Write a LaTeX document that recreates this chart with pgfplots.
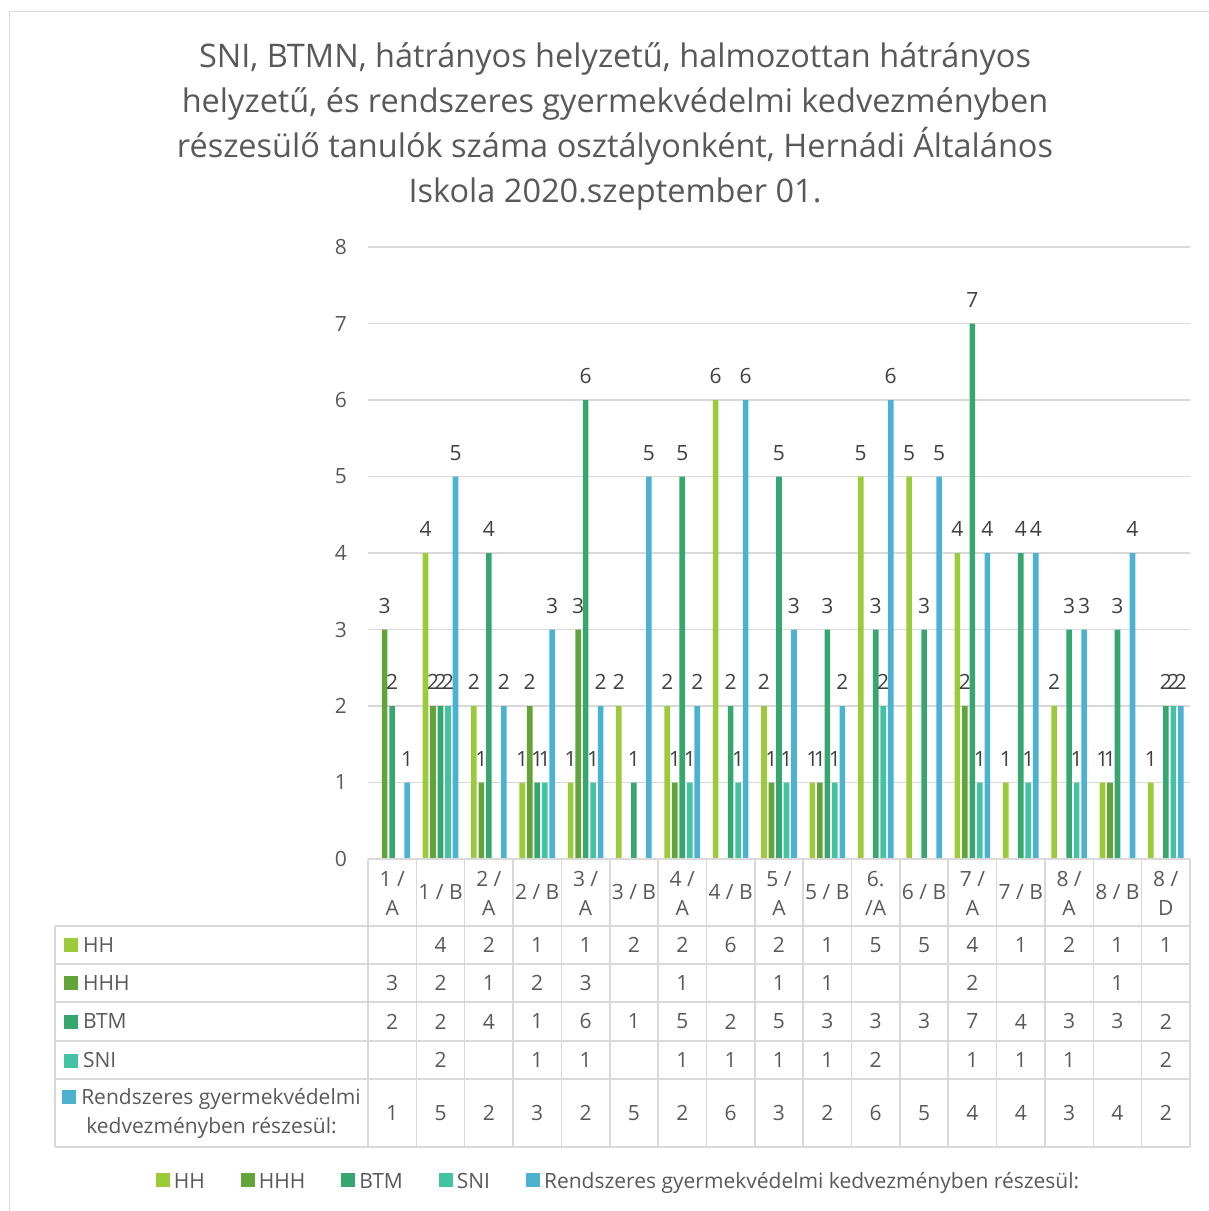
\documentclass[border=0pt]{standalone}
\usepackage{fontspec}
\setmainfont{Open Sans}
\usepackage{pgfplots}
\usepackage{pgfplotstable}
\pgfplotsset{compat=1.18}
\definecolor{cHH}{HTML}{9BCB3B}
\definecolor{cHHH}{HTML}{62A33A}
\definecolor{cBTM}{HTML}{36A76E}
\definecolor{cSNI}{HTML}{44C3A4}
\definecolor{cREND}{HTML}{4BB2CF}
\definecolor{txtgray}{HTML}{595959}
\definecolor{lblgray}{HTML}{404040}
\definecolor{linegray}{HTML}{D9D9D9}

\pgfplotsset{sqleg/.style={legend image code/.code={\fill[##1] (0pt,-2.5pt) rectangle (7pt,4.5pt);}}}

% osztalyok: 0=1/A ... 16=8/D, nan = ures cella
\pgfplotstableread{
x  HH  HHH BTM SNI REND
0  nan 3   2   nan 1
1  4   2   2   2   5
2  2   1   4   nan 2
3  1   2   1   1   3
4  1   3   6   1   2
5  2   nan 1   nan 5
6  2   1   5   1   2
7  6   nan 2   1   6
8  2   1   5   1   3
9  1   1   3   1   2
10 5   nan 3   2   6
11 5   nan 3   nan 5
12 4   2   7   1   4
13 1   nan 4   1   4
14 2   nan 3   1   3
15 1   1   3   nan 4
16 1   nan 2   2   2
}\data

\newcommand{\tf}{\fontsize{10.5}{14.5}\selectfont}

\begin{document}
\begin{tikzpicture}
\useasboundingbox (0,0) rectangle (604.5pt,605.5pt);
\draw[linegray, line width=0.6pt] (4.8pt,-2pt) |- (608pt,599.6pt);

\node[align=center, text=txtgray, font=\fontsize{16.25}{22.5}\selectfont] at (307.5pt,542.25pt)
  {SNI, BTMN, hátrányos helyzetű, halmozottan hátrányos\\
   helyzetű, és rendszeres gyermekvédelmi kedvezményben\\
   részesülő tanulók száma osztályonként, Hernádi Általános\\
   Iskola 2020.szeptember 01.};

\begin{axis}[
  at={(184pt,176pt)}, anchor=south west,
  width=411pt, height=306pt, scale only axis,
  xmin=-0.5, xmax=16.5, ymin=0, ymax=8,
  ybar=0.95pt, bar width=2.8pt,
  xtick=\empty, ytick={0,...,8},
  ymajorgrids, grid style={linegray, line width=0.75pt},
  axis line style={draw=none},
  major tick length=0pt,
  yticklabel style={font=\tf, text=txtgray, xshift=-7pt},
  /pgf/number format/assume math mode=true,
  nodes near coords,
  every node near coord/.append style={font=\tf, text=lblgray, yshift=4.5pt},
  clip=false,
  legend columns=5,
  legend style={draw=none, at={(0.306,-0.528)}, anchor=center, font=\tf, text=txtgray,
    /tikz/every even column/.append style={column sep=16pt}},
]
\addplot[fill=cHH, draw=none, sqleg] table[x=x, y=HH] {\data};
\addplot[fill=cHHH, draw=none, sqleg] table[x=x, y=HHH] {\data};
\addplot[fill=cBTM, draw=none, sqleg] table[x=x, y=BTM] {\data};
\addplot[fill=cSNI, draw=none, sqleg] table[x=x, y=SNI] {\data};
\addplot[fill=cREND, draw=none, sqleg] table[x=x, y=REND] {\data};
\legend{HH, HHH, BTM, SNI, Rendszeres gyermekvédelmi kedvezményben részesül:}
\end{axis}

% adattabla
\begin{axis}[
  at={(184pt,32pt)}, anchor=south west,
  width=411pt, height=144pt, scale only axis,
  xmin=-0.5, xmax=16.5, ymin=0, ymax=288, y dir=reverse,
  hide axis, clip=false,
  /pgf/number format/assume math mode=true,
  nodes near coords align=center,
  every node near coord/.style={anchor=center, font=\tf, text=txtgray},
]
\pgfplotsinvokeforeach{-0.5,0.5,...,16.5}{
  \draw[linegray, line width=0.75pt] (axis cs:#1,0) -- (axis cs:#1,288);
}
\pgfplotsinvokeforeach{67,105,143,182,220,288}{
  \draw[linegray, line width=0.75pt] (axis cs:-6.974,#1) -- (axis cs:16.5,#1);
}
\draw[linegray, line width=0.75pt] (axis cs:-0.5,0) -- (axis cs:16.5,0);
\draw[linegray, line width=0.75pt] (axis cs:-6.974,67) -- (axis cs:-6.974,288);

\node[align=center, font=\tf, text=txtgray] at (axis cs:0,34.5) {1 /\\A};
\node[align=center, font=\tf, text=txtgray] at (axis cs:1,33) {1 / B};
\node[align=center, font=\tf, text=txtgray] at (axis cs:2,34.5) {2 /\\A};
\node[align=center, font=\tf, text=txtgray] at (axis cs:3,33) {2 / B};
\node[align=center, font=\tf, text=txtgray] at (axis cs:4,34.5) {3 /\\A};
\node[align=center, font=\tf, text=txtgray] at (axis cs:5,33) {3 / B};
\node[align=center, font=\tf, text=txtgray] at (axis cs:6,34.5) {4 /\\A};
\node[align=center, font=\tf, text=txtgray] at (axis cs:7,33) {4 / B};
\node[align=center, font=\tf, text=txtgray] at (axis cs:8,34.5) {5 /\\A};
\node[align=center, font=\tf, text=txtgray] at (axis cs:9,33) {5 / B};
\node[align=center, font=\tf, text=txtgray] at (axis cs:10,34.5) {6.\\/A};
\node[align=center, font=\tf, text=txtgray] at (axis cs:11,33) {6 / B};
\node[align=center, font=\tf, text=txtgray] at (axis cs:12,34.5) {7 /\\A};
\node[align=center, font=\tf, text=txtgray] at (axis cs:13,33) {7 / B};
\node[align=center, font=\tf, text=txtgray] at (axis cs:14,34.5) {8 /\\A};
\node[align=center, font=\tf, text=txtgray] at (axis cs:15,33) {8 / B};
\node[align=center, font=\tf, text=txtgray] at (axis cs:16,34.5) {8 /\\D};

\node[anchor=west, font=\tf, text=txtgray, xshift=1pt] at (axis cs:-6.974,86)
  {\textcolor{cHH}{\rule{7pt}{7pt}}\hspace{2.5pt}HH};
\node[anchor=west, font=\tf, text=txtgray, xshift=1pt] at (axis cs:-6.974,124)
  {\textcolor{cHHH}{\rule{7pt}{7pt}}\hspace{2.5pt}HHH};
\node[anchor=west, font=\tf, text=txtgray, xshift=1pt] at (axis cs:-6.974,162.5)
  {\textcolor{cBTM}{\rule{7pt}{7pt}}\hspace{2.5pt}BTM};
\node[anchor=west, font=\tf, text=txtgray, xshift=1pt] at (axis cs:-6.974,201)
  {\textcolor{cSNI}{\rule{7pt}{7pt}}\hspace{2.5pt}SNI};
\node[align=center, font=\tf, text=txtgray, inner sep=0pt] at (axis cs:-3.737,254)
  {\textcolor{cREND}{\rule{7pt}{7pt}}\hspace{2.5pt}Rendszeres gyermekvédelmi\\kedvezményben részesül:};

\addplot[draw=none, mark=none, nodes near coords, point meta=explicit]
  table[x=x, y expr=\thisrow{HH}*0+86, meta=HH] {\data};
\addplot[draw=none, mark=none, nodes near coords, point meta=explicit]
  table[x=x, y expr=\thisrow{HHH}*0+124, meta=HHH] {\data};
\addplot[draw=none, mark=none, nodes near coords, point meta=explicit]
  table[x=x, y expr=\thisrow{BTM}*0+162.5, meta=BTM] {\data};
\addplot[draw=none, mark=none, nodes near coords, point meta=explicit]
  table[x=x, y expr=\thisrow{SNI}*0+201, meta=SNI] {\data};
\addplot[draw=none, mark=none, nodes near coords, point meta=explicit]
  table[x=x, y expr=\thisrow{REND}*0+254, meta=REND] {\data};
\end{axis}
\end{tikzpicture}
\end{document}
